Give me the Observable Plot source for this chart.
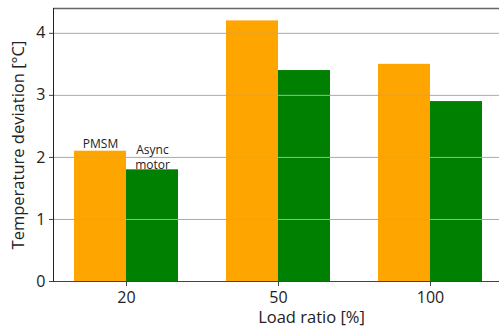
<!DOCTYPE html>
<html>
<head>
<meta charset="utf-8">
<script src="https://cdn.jsdelivr.net/npm/d3@7"></script>
<script src="https://cdn.jsdelivr.net/npm/@observablehq/plot@0.6"></script>
<style>
  html, body { margin: 0; padding: 0; background: #fff; }
  #chart svg { display: block; }
</style>
</head>
<body>
<div id="chart"></div>
<script>
const categories = ["20", "50", "100"];
const pmsmValues = [2.1, 4.2, 3.5];
const asyncValues = [1.8, 3.4, 2.9];
const seriesNames = ["PMSM", "Async\nmotor"];
const yTicks = [0, 1, 2, 3, 4];
const xLabel = "Load ratio [%]";
const yLabel = "Temperature deviation [°C]";

const pmsmRows = categories.map((c, i) => ({load: c, value: pmsmValues[i]}));
const asyncRows = categories.map((c, i) => ({load: c, value: asyncValues[i]}));
const labelRows = [
  {load: categories[0], value: pmsmValues[0], text: seriesNames[0], side: "left"},
  {load: categories[0], value: asyncValues[0], text: seriesNames[1], side: "right"}
];

const W = 499, H = 327;
const mL = 53, mR = 0, mT = 8, mB = 46;
const padIn = 0.316, padOut = 0.125;
const step = (W - mL - mR) / (categories.length - padIn + 2 * padOut);
const half = step * (1 - padIn) / 2;

const chart = Plot.plot({
  width: W,
  height: H,
  marginLeft: mL,
  marginRight: mR,
  marginTop: mT,
  marginBottom: mB,
  style: {fontFamily: "'Open Sans', sans-serif", color: "#333", background: "#fff"},
  x: {domain: categories, paddingInner: padIn, paddingOuter: padOut, align: 0.55, axis: null},
  y: {domain: [0, 4.4], axis: null},
  marks: [
    Plot.barY(pmsmRows, {x: "load", y: "value", fill: "#FFA500", insetRight: half, insetLeft: 0}),
    Plot.barY(asyncRows, {x: "load", y: "value", fill: "#008000", insetLeft: half, insetRight: 0}),
    Plot.gridY(yTicks.slice(1), {stroke: "#aaa", strokeOpacity: 1, strokeWidth: 1}),
    Plot.ruleY([4.4], {stroke: "#666", strokeWidth: 1.5}),
    Plot.ruleY([0], {stroke: "#444", strokeWidth: 1}),
    Plot.frame({anchor: "left", stroke: "#222", strokeWidth: 1}),
    Plot.axisY({ticks: yTicks, tickSize: 4, tickPadding: 4, fontSize: 16, label: null, stroke: "#444", fill: "#222", tickFormat: d => String(d)}),
    Plot.axisX({tickSize: 5, tickPadding: 5, fontSize: 16, label: null, stroke: "#444", fill: "#222"}),
    Plot.text(labelRows.filter(d => d.side === "left"), {x: "load", y: "value", text: "text", dx: -half / 2, dy: -7, fontSize: 12, fill: "#222"}),
    Plot.text(labelRows.filter(d => d.side === "right"), {x: "load", y: "value", text: "text", dx: half / 2, dy: -1, lineAnchor: "bottom", lineHeight: 1.25, fontSize: 12, fill: "#222"}),
    Plot.text([yLabel], {frameAnchor: "left", dx: -35, rotate: -90, textAnchor: "middle", lineAnchor: "middle", fontSize: 16.5, fill: "#222"}),
    Plot.text([xLabel], {frameAnchor: "bottom", dx: 35, dy: 36, textAnchor: "middle", lineAnchor: "middle", fontSize: 16.5, fill: "#222"})
  ]
});
document.getElementById("chart").appendChild(chart);
</script>
</body>
</html>
